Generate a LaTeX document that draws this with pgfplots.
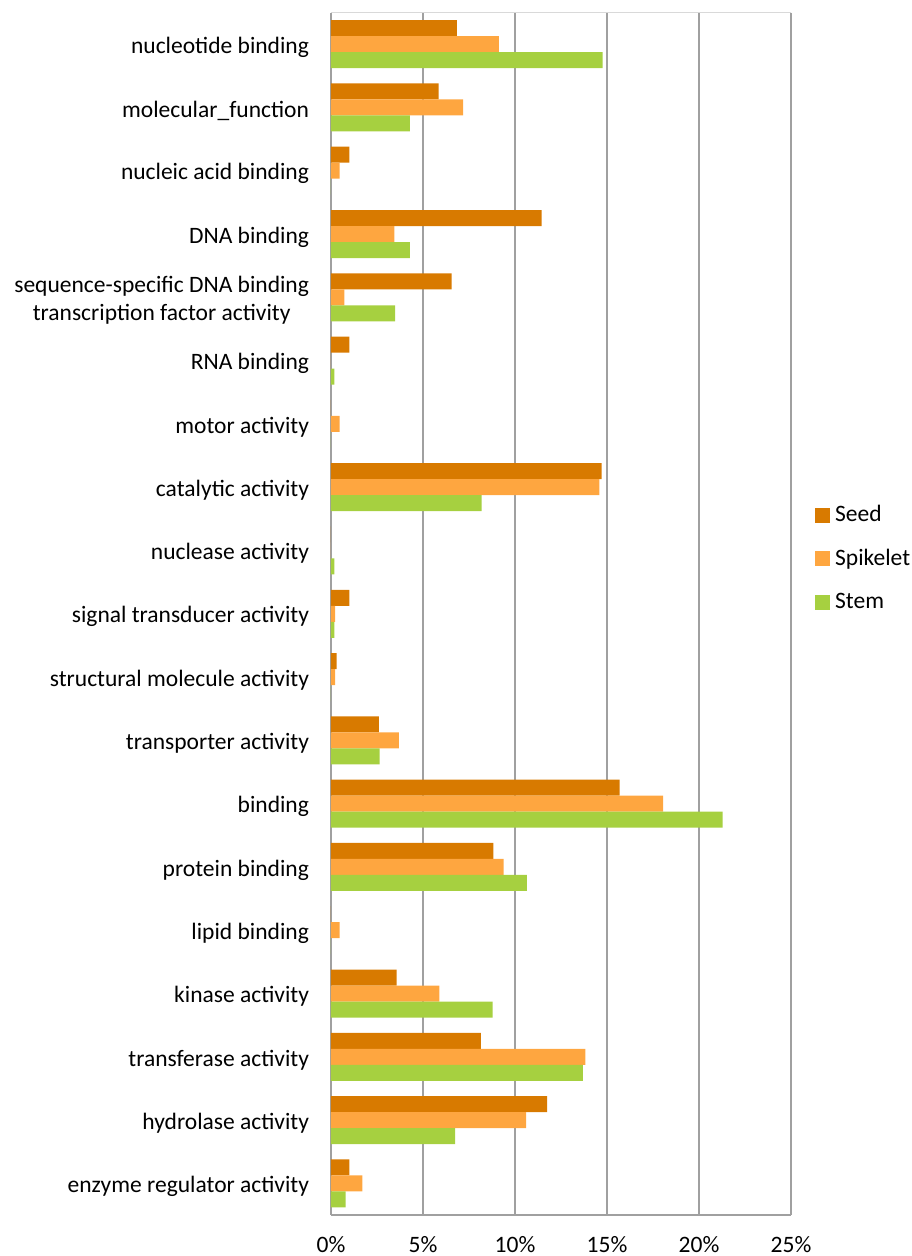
\documentclass[border=0pt]{standalone}
\usepackage{fontspec}
\setmainfont{Carlito}
\usepackage{pgfplots}
\pgfplotsset{compat=1.18}

\definecolor{seed}{RGB}{216,122,0}
\definecolor{spikelet}{RGB}{254,166,64}
\definecolor{stem}{RGB}{166,208,64}
\definecolor{gridgray}{RGB}{160,160,160}
\definecolor{frame}{RGB}{217,217,217}

\newcommand{\lblfont}{\fontsize{23.6}{27.5}\selectfont}

\begin{document}
\lblfont
\begin{tikzpicture}
\path[use as bounding box] (-331bp,-41bp) rectangle (581bp,1215bp);
\begin{axis}[
  at={(0,0)}, anchor=south west,
  scale only axis, width=460bp, height=1202.5bp,
  xbar=0pt, bar width=16bp,
  xmin=0, xmax=25,
  ymin=-0.5, ymax=18.5, y dir=reverse,
  ytick={0,...,18},
  yticklabels={nucleotide binding, molecular\_function, nucleic acid binding,
    DNA binding, {sequence-specific DNA binding\\transcription factor activity},
    RNA binding, motor activity, catalytic activity, nuclease activity,
    signal transducer activity, structural molecule activity,
    transporter activity, binding, protein binding, lipid binding,
    kinase activity, transferase activity, hydrolase activity,
    enzyme regulator activity},
  yticklabel style={align=center, font=\lblfont, xshift=-14bp, yshift=-3bp},
  xtick={0,5,10,15,20,25},
  xticklabels={0\%,5\%,10\%,15\%,20\%,25\%},
  xticklabel style={font=\lblfont, yshift=-13bp},
  xmajorgrids, major grid style={gridgray, line width=1.4bp},
  axis line style={draw=none},
  major tick length=0pt,
  legend style={at={(1,0.546)}, anchor=west, xshift=21bp, draw=none, fill=none,
    font=\lblfont, row sep=20bp,
    nodes={inner xsep=5bp}},
  legend cell align=left,
  legend image code/.code={\fill[#1] (0bp,-7.5bp) rectangle (15bp,7.5bp);},
  clip=false,
]
\addplot[fill=seed, draw=none, bar shift=16bp] coordinates {
  (6.84,0) (5.85,1) (1.00,2) (11.45,3) (6.55,4) (1.00,5) (0,6) (14.71,7)
  (0,8) (1.00,9) (0.31,10) (2.60,11) (15.69,12) (8.82,13) (0,14) (3.56,15)
  (8.15,16) (11.75,17) (1.00,18)};
\addplot[fill=spikelet, draw=none, bar shift=0bp] coordinates {
  (9.13,0) (7.18,1) (0.47,2) (3.44,3) (0.73,4) (0,5) (0.47,6) (14.58,7)
  (0,8) (0.22,9) (0.22,10) (3.69,11) (18.05,12) (9.38,13) (0.47,14) (5.89,15)
  (13.82,16) (10.60,17) (1.71,18)};
\addplot[fill=stem, draw=none, bar shift=-16bp] coordinates {
  (14.76,0) (4.29,1) (0,2) (4.29,3) (3.49,4) (0.18,5) (0,6) (8.18,7)
  (0.18,8) (0.18,9) (0,10) (2.64,11) (21.29,12) (10.65,13) (0,14) (8.78,15)
  (13.69,16) (6.75,17) (0.80,18)};
\legend{Seed, Spikelet, Stem}
\end{axis}
% plot-area frame: light top edge, grey bottom edge
\draw[frame, line width=1.2bp] (0,1202.5bp) -- (460bp,1202.5bp);
\draw[gridgray, line width=1.4bp] (0,0) -- (460bp,0);
\end{tikzpicture}
\end{document}
